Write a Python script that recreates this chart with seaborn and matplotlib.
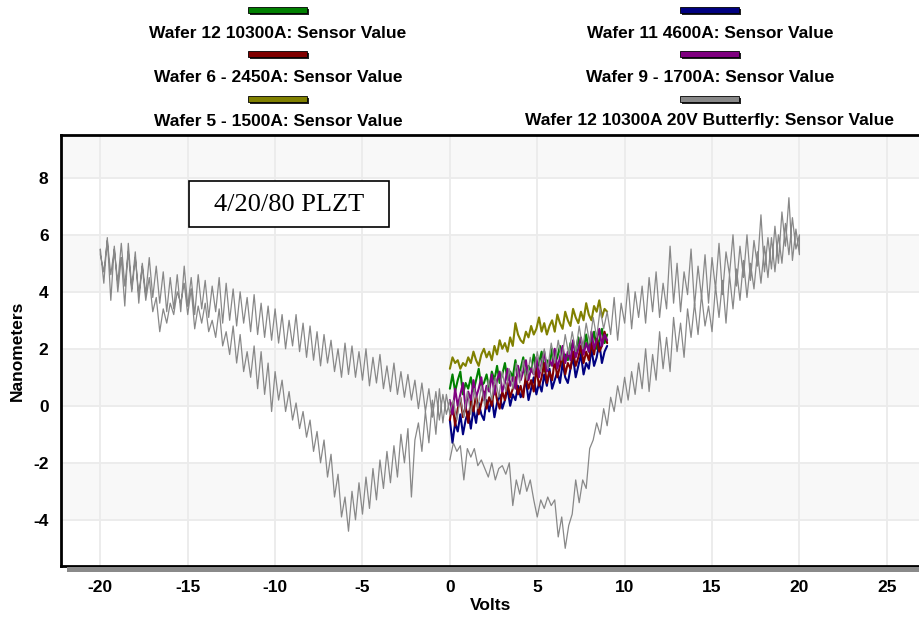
import numpy as np
import pandas as pd
import matplotlib
matplotlib.use('Agg')
import matplotlib.pyplot as plt
import seaborn as sns
from matplotlib.patches import Rectangle
from matplotlib.ticker import MultipleLocator

# Butterfly loop of wafer 12, one list per sweep leg (0.2 V steps)
bf_lower_right = [  # 0 -> +20 V
    -1.9, -1.3, -1.6, -1.4, -2.6, -1.5, -1.8, -1.5, -2.1, -1.9,
    -2.2, -2.5, -2.0, -2.6, -2.2, -2.1, -2.4, -2.0, -3.5, -2.6,
    -3.1, -2.4, -3.0, -2.6, -3.3, -3.9, -3.3, -3.6, -3.2, -3.5,
    -3.3, -4.6, -3.9, -5.0, -4.2, -3.8, -2.6, -3.4, -2.6, -2.9,
    -1.5, -1.2, -0.6, -1.0, -0.1, -0.7, 0.3, -0.2, 0.7, 0.1,
    1.0, 0.2, 1.2, 0.4, 1.5, 0.6, 2.0, 0.5, 1.8, 0.9,
    2.6, 1.3, 2.4, 1.2, 3.1, 1.9, 2.9, 1.7, 3.4, 2.4,
    3.6, 2.5, 3.9, 2.8, 3.5, 2.6, 4.2, 3.1, 4.4, 2.9,
    4.6, 3.4, 4.8, 3.7, 5.1, 3.8, 5.0, 4.1, 5.4, 4.3,
    5.6, 4.5, 5.9, 4.7, 6.0, 5.0, 6.4, 5.3, 6.6, 5.5,
    6.0]
bf_upper_right = [  # +20 -> 0 V
    5.3, 6.2, 5.1, 7.3, 5.6, 6.8, 5.0, 6.3, 4.8, 5.9,
    4.7, 6.7, 4.9, 5.8, 4.4, 6.0, 4.5, 5.6, 4.2, 6.0,
    4.6, 5.4, 3.9, 5.7, 4.1, 5.2, 3.6, 5.3, 3.8, 4.9,
    3.5, 5.5, 3.9, 4.7, 3.3, 5.0, 3.6, 5.6, 3.4, 4.3,
    3.1, 4.7, 3.3, 4.5, 2.9, 4.2, 3.1, 4.0, 2.7, 4.3,
    2.9, 3.6, 2.3, 3.8, 2.5, 3.3, 2.7, 3.4, 2.4, 3.1,
    2.2, 2.9, 2.0, 2.8, 1.9, 2.6, 1.8, 2.5, 1.6, 2.3,
    1.5, 2.2, 1.3, 2.0, 1.2, 1.9, 1.1, 1.7, 0.9, 1.6,
    0.8, 1.5, 0.6, 1.3, 0.5, 1.2, 0.3, 1.0, 0.2, 0.9,
    0.0, 0.7, -0.1, 0.6, -0.3, 0.5, -0.4, 0.3, -0.5, 0.2,
    -0.2]
bf_lower_left = [  # 0 -> -20 V
    -0.3, 0.4, -0.6, 0.6, -1.0, 0.2, -1.3, -0.2, -1.6, -0.6,
    -1.2, -3.2, -0.8, -2.0, -1.0, -2.5, -1.4, -2.7, -1.6, -2.9,
    -1.9, -3.3, -2.2, -3.6, -2.5, -3.8, -2.7, -4.0, -3.0, -4.4,
    -3.2, -3.9, -2.4, -3.2, -1.7, -2.5, -1.2, -2.0, -0.9, -1.6,
    -0.5, -1.1, -0.2, -0.8, 0.1, -0.5, 0.5, -0.2, 0.9, 0.2,
    1.2, -0.2, 1.5, 0.4, 1.9, 0.6, 2.1, 1.0, 1.9, 1.2,
    2.5, 1.5, 2.8, 1.8, 2.6, 2.1, 3.4, 2.4, 3.0, 2.6,
    3.6, 2.9, 3.5, 2.7, 4.1, 3.2, 4.3, 3.6, 4.0, 3.2,
    3.6, 2.9, 3.4, 2.6, 3.8, 3.3, 4.5, 3.7, 4.9, 3.9,
    5.2, 4.0, 5.4, 4.2, 5.7, 4.3, 5.5, 4.6, 5.8, 4.7,
    5.3]
bf_upper_left = [  # -20 -> 0 V
    5.5, 4.3, 5.9, 3.7, 5.6, 4.0, 5.2, 3.5, 5.7, 4.1,
    5.4, 3.6, 5.0, 3.9, 5.2, 3.8, 4.9, 3.6, 4.7, 3.3,
    4.5, 3.4, 4.6, 3.3, 4.9, 3.5, 4.5, 3.2, 4.6, 3.4,
    4.4, 3.1, 4.2, 3.3, 4.5, 2.9, 4.3, 3.0, 4.1, 2.8,
    4.0, 2.9, 3.8, 2.6, 3.9, 2.5, 3.6, 2.4, 3.5, 2.3,
    3.4, 2.2, 3.2, 2.0, 3.0, 2.1, 3.2, 1.9, 2.9, 1.7,
    2.8, 1.6, 2.6, 1.4, 2.5, 1.5, 2.3, 1.2, 2.0, 1.0,
    2.2, 1.1, 2.1, 1.0, 1.9, 0.9, 2.0, 0.7, 1.7, 0.8,
    1.8, 0.6, 1.4, 0.5, 1.5, 0.4, 1.2, 0.3, 1.1, 0.2,
    0.9, -0.1, 0.8, -0.2, 0.6, -0.4, 0.5, -0.5, 0.4, -0.3,
    0.2]

# 0 -> 9 V sweeps of the other wafers (0.15 V steps)
w12_10300 = [
    0.6, 1.1, 0.5, 0.9, 1.2, 0.4, 0.8, 0.6, 1.0, 0.5,
    0.9, 1.3, 0.7, 0.8, 1.1, 0.6, 1.2, 0.9, 1.4, 0.8,
    1.1, 1.5, 0.9, 1.2, 1.0, 1.6, 1.1, 1.3, 1.7, 1.0,
    1.4, 1.2, 1.8, 1.3, 1.5, 1.9, 1.2, 1.6, 1.4, 2.0,
    1.5, 1.7, 2.1, 1.4, 1.8, 1.6, 2.2, 1.7, 1.9, 2.4,
    1.8, 2.0, 2.5, 1.9, 2.2, 2.6, 2.0, 2.3, 2.7, 2.2, 2.5]
w11_4600 = [
    -0.5, -1.3, -0.6, -0.9, -0.3, -1.0, -0.5, -0.2, -0.8, -0.1,
    -0.6, 0.1, -0.3, -0.5, 0.2, -0.2, 0.3, -0.4, 0.1, 0.4,
    -0.1, 0.2, 0.6, 0.0, 0.4, 0.2, 0.7, 0.3, 0.5, 0.9,
    0.2, 0.6, 1.0, 0.4, 0.8, 0.5, 1.1, 0.7, 1.3, 0.6,
    0.9, 1.2, 0.8, 1.5, 1.0, 0.8, 1.3, 1.7, 1.0, 1.4,
    1.8, 1.1, 1.5, 1.3, 2.0, 1.4, 1.7, 2.2, 1.5, 1.9, 2.1]
w6_2450 = [
    -0.5, 0.1, -0.7, -0.1, 0.3, -0.4, 0.0, -0.6, 0.2, -0.2,
    0.4, -0.3, 0.1, 0.5, -0.1, 0.3, 0.0, 0.7, 0.2, -0.1,
    0.5, 0.2, 0.8, 0.3, 0.6, 1.0, 0.4, 0.7, 0.3, 1.1,
    0.6, 0.9, 0.5, 1.3, 0.7, 1.0, 1.5, 0.8, 1.2, 0.9,
    1.6, 1.0, 1.4, 1.8, 1.1, 1.5, 1.3, 1.9, 1.4, 1.7,
    2.1, 1.5, 1.9, 1.6, 2.2, 1.8, 2.4, 1.9, 2.1, 2.6, 2.2]
w9_1700 = [
    0.2, -0.3, 0.6, 0.0, 0.4, 0.8, -0.1, 0.5, 0.2, 0.9,
    0.3, 0.6, 1.0, 0.2, 0.7, 0.5, 1.1, 0.4, 0.9, 1.2,
    0.5, 0.8, 1.3, 0.7, 1.0, 0.6, 1.4, 0.9, 1.2, 1.6,
    0.9, 1.3, 1.1, 1.7, 1.0, 1.5, 1.9, 1.2, 1.6, 1.4,
    2.0, 1.3, 1.7, 2.1, 1.5, 1.9, 1.6, 2.3, 1.7, 2.0,
    2.4, 1.8, 2.2, 1.9, 2.6, 2.0, 2.3, 2.7, 2.1, 2.5, 2.3]
w5_1500 = [
    1.3, 1.7, 1.5, 1.6, 1.3, 1.5, 1.4, 1.7, 1.5, 1.9,
    1.6, 1.4, 1.8, 2.0, 1.7, 1.9, 1.6, 2.1, 1.8, 2.3,
    2.0, 2.2, 1.9, 2.4, 2.1, 2.9, 2.5, 2.3, 2.2, 2.6,
    2.4, 2.8, 2.5, 2.7, 3.1, 2.6, 2.9, 2.5, 2.8, 3.0,
    2.6, 3.2, 2.9, 2.7, 3.3, 3.0, 2.8, 3.4, 3.1, 2.9,
    3.3, 3.0, 3.6, 3.2, 3.0, 3.5, 3.3, 3.7, 3.1, 3.4, 3.3]

labels = ['Wafer 12 10300A: Sensor Value', 'Wafer 11 4600A: Sensor Value',
          'Wafer 6 - 2450A: Sensor Value', 'Wafer 9 - 1700A: Sensor Value',
          'Wafer 5 - 1500A: Sensor Value', 'Wafer 12 10300A 20V Butterfly: Sensor Value']
colors = ['#008000', '#000080', '#800000', '#800080', '#808000', '#888888']


def sweep(start, stop, vals):
    return pd.DataFrame({'volts': np.linspace(start, stop, len(vals)), 'nm': vals})


short = [sweep(0, 9, v) for v in [w12_10300, w11_4600, w6_2450, w9_1700, w5_1500]]
butterfly = pd.concat([sweep(0, 20, bf_lower_right), sweep(20, 0, bf_upper_right),
                       sweep(0, -20, bf_lower_left), sweep(-20, 0, bf_upper_left)],
                      ignore_index=True)

sns.set_style('white')
plt.rcParams['font.family'] = ['Liberation Sans', 'DejaVu Sans']
plt.rcParams['font.weight'] = 'bold'
plt.rcParams['axes.unicode_minus'] = False
for key in ['text.color', 'axes.labelcolor', 'xtick.color', 'ytick.color']:
    plt.rcParams[key] = 'black'

fig = plt.figure(figsize=(9.2, 6.24), dpi=100)
W, H = 920, 624
ax = fig.add_axes([61 / W, 1 - 566 / H, (W - 61) / W, (566 - 135) / H])

# alternating background bands + grid
for lo in range(-4, 9, 4):
    ax.axhspan(lo, lo + 2, color='#f8f8f8', zorder=0, lw=0)
ax.grid(True, which='major', color='#ebebeb', lw=1.3, zorder=0.5)
ax.set_axisbelow(True)

for df, c in zip(short, colors[:5]):
    sns.lineplot(data=df, x='volts', y='nm', sort=False, estimator=None,
                 color=c, lw=1.5, ax=ax, legend=False)
sns.lineplot(data=butterfly, x='volts', y='nm', sort=False, estimator=None,
             color=colors[5], lw=0.9, ax=ax, legend=False)

ax.set_xlim(-22.25, 26.9)
ax.set_ylim(-5.62, 9.5)
ax.xaxis.set_major_locator(MultipleLocator(5))
ax.xaxis.set_minor_locator(MultipleLocator(1))
ax.yaxis.set_major_locator(MultipleLocator(2))
ax.yaxis.set_minor_locator(MultipleLocator(0.5))
ax.tick_params(axis='x', which='major', direction='out', length=4, width=1.2,
               labelsize=12.5, pad=6)
ax.tick_params(axis='x', which='minor', direction='in', length=10, width=1.2)
ax.tick_params(axis='y', which='major', direction='out', length=7, width=1.2,
               labelsize=12.5, pad=2)
ax.tick_params(axis='y', which='minor', direction='in', length=9, width=1.2)

for side in ['top', 'left', 'bottom']:
    ax.spines[side].set_color('black')
    ax.spines[side].set_linewidth(2)
ax.spines['right'].set_visible(False)

ax.set_xlabel('Volts', fontsize=12.5, fontweight='bold', labelpad=2)
ax.set_ylabel('Nanometers', fontsize=12.5, fontweight='bold', labelpad=6)

# annotation box
ax.add_patch(Rectangle((-14.94, 6.27), 11.45, 1.61, facecolor='white',
                       edgecolor='black', lw=1.2, zorder=5))
ax.text(-9.22, 7.06, '4/20/80 PLZT', ha='center', va='center', fontsize=19,
        fontweight='normal', family=['Liberation Serif', 'DejaVu Serif'], zorder=6)

# shadow under the x axis
fig.add_artist(Rectangle((67 / W, 1 - 572 / H), (W - 67) / W, 5 / H,
                         transform=fig.transFigure, facecolor='#8a8a8a', lw=0))

# legend: two columns, bar above each label
col_x = [278, 710]
bar_y = [7, 51, 96]
text_y = [33, 77, 121]
for i, (lab, c) in enumerate(zip(labels, colors)):
    cx, r = col_x[i % 2], i // 2
    fig.add_artist(Rectangle(((cx - 28) / W, 1 - (bar_y[r] + 8) / H), 59 / W, 6 / H,
                             transform=fig.transFigure, facecolor='#222222', lw=0))
    fig.add_artist(Rectangle(((cx - 30) / W, 1 - (bar_y[r] + 6) / H), 59 / W, 6 / H,
                             transform=fig.transFigure, facecolor=c,
                             edgecolor='black', lw=0.6))
    fig.text(cx / W, 1 - text_y[r] / H, lab, ha='center', va='center',
             fontsize=12.5, fontweight='bold')

fig.savefig('out.png', dpi=100)
